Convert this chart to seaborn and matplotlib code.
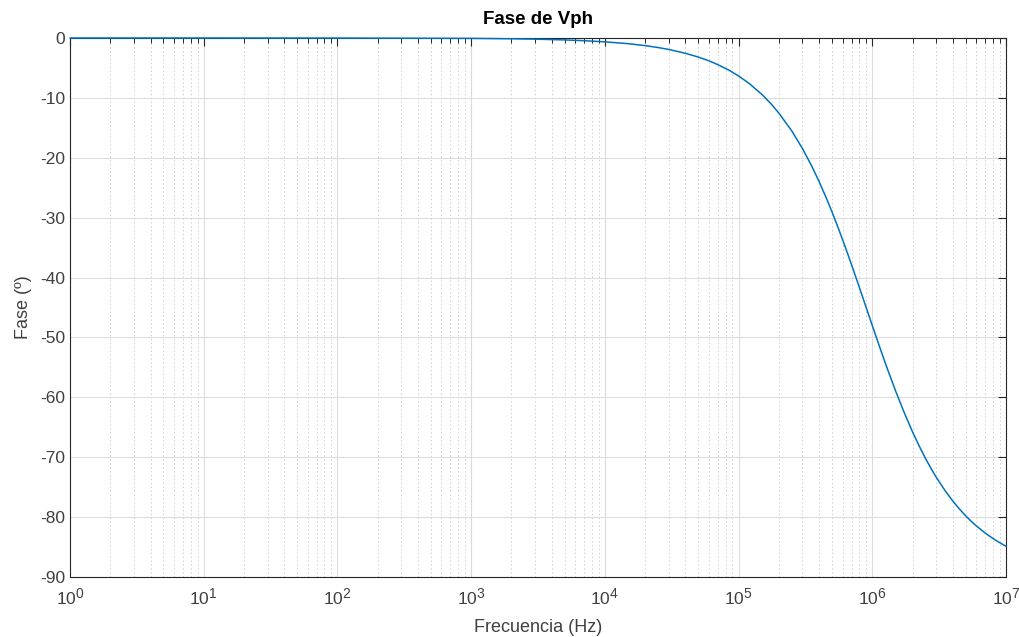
import matplotlib
matplotlib.use("Agg")
import matplotlib.pyplot as plt
import seaborn as sns
import pandas as pd
from matplotlib.ticker import FixedLocator, LogLocator, LogFormatterSciNotation, NullFormatter
try:
    import matplotlib._mathtext as _mt
    _mt.SHRINK_FACTOR = 0.8
except Exception:
    pass

# Values
freq_hz = [1, 10, 100, 1e3, 2e3, 3e3, 5e3, 7e3, 1e4, 1.5e4, 2e4, 2.5e4, 3e4, 4e4, 5e4, 6e4, 7e4, 8.5e4,
           1e5, 1.2e5, 1.5e5, 1.75e5, 2e5, 2.5e5, 3e5, 3.5e5, 4e5, 4.5e5, 5e5, 5.5e5, 6e5, 6.5e5,
           7e5, 7.5e5, 8e5, 8.5e5, 9e5, 1e6, 1.1e6, 1.2e6, 1.3e6, 1.5e6, 1.75e6, 2e6, 2.25e6, 2.5e6,
           2.75e6, 3e6, 3.5e6, 4e6, 4.5e6, 5e6, 5.5e6, 6e6, 7e6, 8e6, 9e6, 1e7]
phase_deg = [0.0, 0.0, -0.01, -0.06, -0.13, -0.19, -0.32, -0.45, -0.64, -0.95, -1.27, -1.59, -1.91, -2.55, -3.18, -3.81, -4.45, -5.39,
             -6.34, -7.59, -9.46, -11.0, -12.53, -15.52, -18.43, -21.25, -23.96, -26.57, -29.05, -31.43, -33.69, -35.84,
             -37.87, -39.81, -41.63, -43.36, -45.0, -48.01, -50.71, -53.13, -55.30, -59.04, -62.78, -65.77, -68.20, -70.20,
             -71.88, -73.30, -75.58, -77.32, -78.69, -79.80, -80.71, -81.47, -82.67, -83.58, -84.29, -84.86]
x_ticks = [1, 10, 100, 1e3, 1e4, 1e5, 1e6, 1e7]
y_ticks = [0, -10, -20, -30, -40, -50, -60, -70, -80, -90]

title = "Fase de Vph"
x_label = "Frecuencia (Hz)"
y_label = "Fase (º)"

sns.set_style("white")
plt.rcParams['font.family'] = ['Liberation Sans', 'DejaVu Sans']
plt.rcParams['axes.unicode_minus'] = False
plt.rcParams['mathtext.fontset'] = 'custom'
plt.rcParams['mathtext.rm'] = 'Liberation Sans'
plt.rcParams['mathtext.it'] = 'Liberation Sans:italic'
plt.rcParams['mathtext.bf'] = 'Liberation Sans:bold'

df = pd.DataFrame({"f": freq_hz, "phase": phase_deg})

fig = plt.figure(figsize=(10.2, 6.37), dpi=100)
ax = fig.add_axes([70/1020, 1-577/637, (1006-70)/1020, (577-38)/637])

sns.lineplot(data=df, x="f", y="phase", ax=ax, color="#0072BD", linewidth=1.1)
for ln in ax.lines:
    ln.set_clip_on(False)
    ln.set_zorder(3)
    ln.set_solid_joinstyle("round")

ax.set_xscale("log")
ax.set_xlim(1, 1e7)
ax.set_ylim(-90, 0)
ax.set_yticks(y_ticks)
ax.xaxis.set_major_locator(FixedLocator(x_ticks))
ax.xaxis.set_major_formatter(LogFormatterSciNotation(base=10))
ax.xaxis.set_minor_locator(LogLocator(base=10, subs=range(2, 10), numticks=100))
ax.xaxis.set_minor_formatter(NullFormatter())

ax.grid(True, which="major", color="#dcdcdc", linestyle="-", linewidth=0.8)
ax.grid(True, which="minor", axis="x", color="#cfcfcf", linestyle=(0, (1.5, 2.5)), linewidth=0.7)
ax.set_axisbelow(True)

for s in ax.spines.values():
    s.set_color("#262626")
    s.set_linewidth(0.8)

ax.tick_params(which="both", direction="in", top=True, right=True,
               colors="#262626", labelcolor="#404040")
ax.tick_params(which="major", length=6, labelsize=12.5, width=0.8)
ax.tick_params(which="minor", length=3.5, width=0.7)
ax.tick_params(axis="x", which="major", pad=7)

ax.set_title(title, fontsize=13.5, fontweight="bold", color="#000000", pad=10)
ax.set_xlabel(x_label, fontsize=13, color="#404040", labelpad=8)
ax.set_ylabel(y_label, fontsize=13, color="#404040", labelpad=6)

fig.savefig("out.png", dpi=100, facecolor="white")
